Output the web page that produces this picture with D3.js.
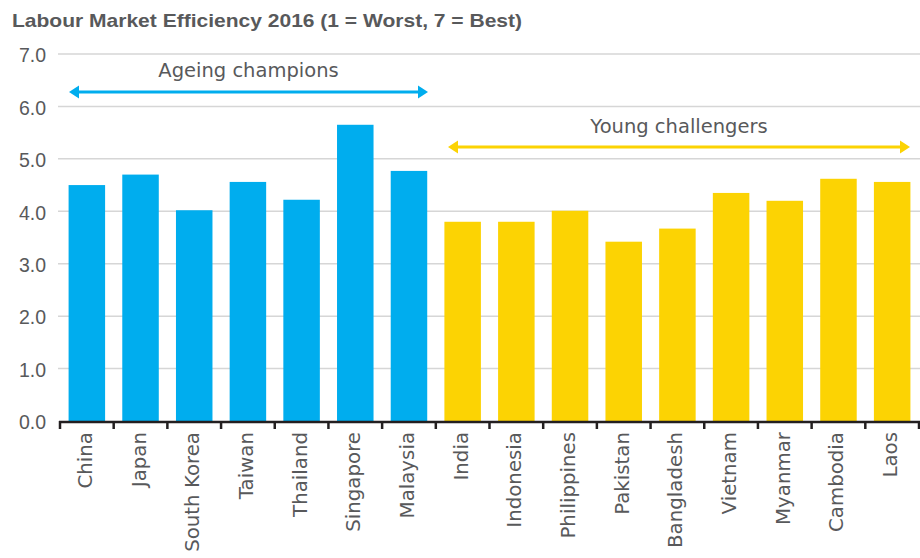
<!DOCTYPE html>
<html>
<head>
<meta charset="utf-8">
<script src="https://cdn.jsdelivr.net/npm/d3@7"></script>
<style>
  body { margin: 0; background: #fff; }
  svg text { font-family: "DejaVu Sans", sans-serif; fill: #58595b; }
</style>
</head>
<body>
<div class="chart"></div>
<script>
// labour market efficiency, ageing champions vs young challengers

var ageingCountries = ['China', 'Japan', 'South Korea', 'Taiwan', 'Thailand', 'Singapore', 'Malaysia'];
var ageingValues = [4.5, 4.7, 4.02, 4.56, 4.22, 5.65, 4.77];

var youngCountries = ['India', 'Indonesia', 'Philippines', 'Pakistan', 'Bangladesh', 'Vietnam', 'Myanmar', 'Cambodia', 'Laos'];
var youngValues = [3.8, 3.8, 4.01, 3.42, 3.67, 4.35, 4.2, 4.62, 4.56];

var yTicks = [0, 1, 2, 3, 4, 5, 6, 7];

var options = {
  width: 920,
  height: 558,
  left: 60,
  right: 919,
  top: 54,
  bottom: 421,
  blue: '#00adee',
  yellow: '#fcd303'
};

var bars = ageingCountries.map(function(c, i) {
  return { country: c, value: ageingValues[i], group: 'ageing' };
}).concat(youngCountries.map(function(c, i) {
  return { country: c, value: youngValues[i], group: 'young' };
}));

var svg = d3.select('.chart').append('svg')
            .attr('width', options.width)
            .attr('height', options.height);

var x = d3.scaleBand()
          .domain(bars.map(function(d) { return d.country; }))
          .range([options.left, options.right])
          .paddingInner(0.32)
          .paddingOuter(0.16);

var y = d3.scaleLinear()
          .domain([0, 7])
          .range([options.bottom, options.top]);

// title
svg.append('text')
   .attr('x', 12)
   .attr('y', 27)
   .attr('textLength', 510)
   .attr('lengthAdjust', 'spacingAndGlyphs')
   .style('font-family', '"Liberation Sans", Arial, sans-serif')
   .style('font-weight', 'bold')
   .style('font-size', '19px')
   .text('Labour Market Efficiency 2016 (1 = Worst, 7 = Best)');

// gridlines
svg.append('g').selectAll('line')
   .data(yTicks.slice(1))
   .enter().append('line')
   .attr('x1', options.left - 2)
   .attr('x2', options.width)
   .attr('y1', function(d) { return y(d); })
   .attr('y2', function(d) { return y(d); })
   .attr('stroke', '#d6d6d6')
   .attr('stroke-width', 1.5);

// y axis labels
var yAxis = svg.append('g')
   .attr('transform', 'translate(46,0)')
   .call(d3.axisLeft(y).tickValues(yTicks).tickFormat(d3.format('.1f')).tickSize(0).tickPadding(0));
yAxis.select('.domain').remove();
yAxis.selectAll('text')
   .style('font-size', '19.5px')
   .style('font-family', '"Liberation Sans", Arial, sans-serif')
   .attr('fill', '#58595b')
   .attr('dy', '0.4em');

// bars
svg.append('g').selectAll('rect')
   .data(bars)
   .enter().append('rect')
   .attr('x', function(d) { return x(d.country); })
   .attr('y', function(d) { return y(d.value); })
   .attr('width', x.bandwidth())
   .attr('height', function(d) { return y(0) - y(d.value); })
   .attr('fill', function(d) { return d.group === 'ageing' ? options.blue : options.yellow; });

// x axis with ticks between the bars
var step = x.step();
var boundaries = d3.range(0, bars.length + 1).map(function(i) { return options.left + i * step; });

svg.append('line')
   .attr('x1', options.left - 1)
   .attr('x2', options.right + 1)
   .attr('y1', options.bottom + 1)
   .attr('y2', options.bottom + 1)
   .attr('stroke', '#231f20')
   .attr('stroke-width', 2.5);

svg.append('g').selectAll('line')
   .data(boundaries)
   .enter().append('line')
   .attr('x1', function(d) { return d; })
   .attr('x2', function(d) { return d; })
   .attr('y1', options.bottom)
   .attr('y2', options.bottom + 8)
   .attr('stroke', '#231f20')
   .attr('stroke-width', 2.5);

svg.append('g').selectAll('text')
   .data(bars)
   .enter().append('text')
   .attr('transform', function(d) {
     return 'translate(' + (x(d.country) + x.bandwidth() / 2 + 5) + ',' + (options.bottom + 11) + ') rotate(-90)';
   })
   .attr('text-anchor', 'end')
   .style('font-size', '19.8px')
   .text(function(d) { return d.country; });

// group arrows
var drawArrow = function(x1, x2, yPos, color, label, labelY) {
  var head = 10, half = 6.5;
  svg.append('line')
     .attr('x1', x1 + head - 1)
     .attr('x2', x2 - head + 1)
     .attr('y1', yPos)
     .attr('y2', yPos)
     .attr('stroke', color)
     .attr('stroke-width', 3);
  svg.append('path')
     .attr('d', 'M' + x1 + ',' + yPos + 'L' + (x1 + head) + ',' + (yPos - half) + 'L' + (x1 + head) + ',' + (yPos + half) + 'Z')
     .attr('fill', color);
  svg.append('path')
     .attr('d', 'M' + x2 + ',' + yPos + 'L' + (x2 - head) + ',' + (yPos - half) + 'L' + (x2 - head) + ',' + (yPos + half) + 'Z')
     .attr('fill', color);
  svg.append('text')
     .attr('x', (x1 + x2) / 2)
     .attr('y', labelY)
     .attr('text-anchor', 'middle')
     .style('font-size', '19.5px')
     .text(label);
};

drawArrow(69, 428, 92, options.blue, 'Ageing champions', 77);
drawArrow(448, 910, 147, options.yellow, 'Young challengers', 133);
</script>
</body>
</html>
